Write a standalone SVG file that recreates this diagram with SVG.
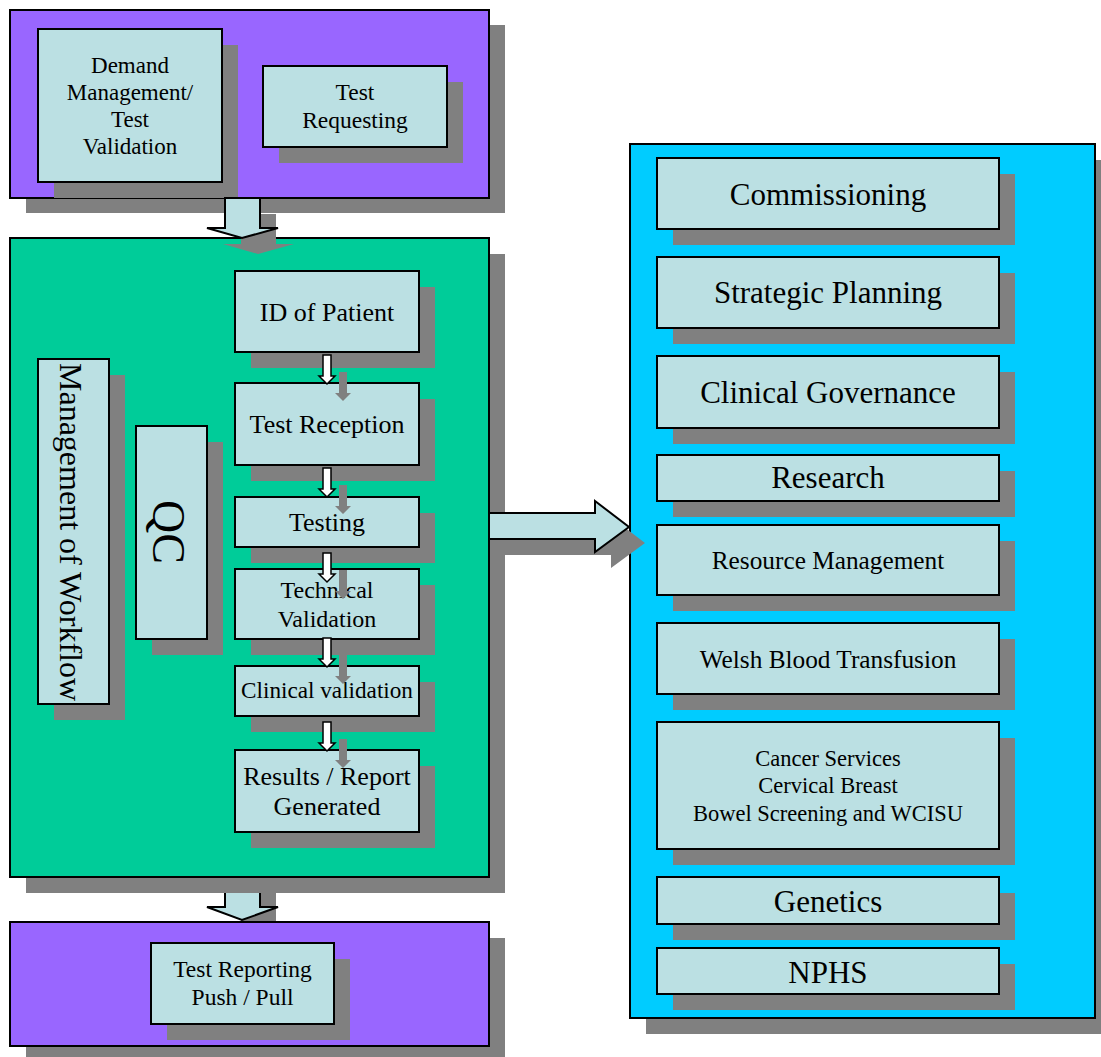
<svg xmlns="http://www.w3.org/2000/svg" width="1101" height="1057" viewBox="0 0 1101 1057">
<style>
.sh{fill:#808080}
.pur{fill:#9966FF;stroke:#000;stroke-width:2}
.grn{fill:#00CC99;stroke:#000;stroke-width:2}
.blu{fill:#00CCFF;stroke:#000;stroke-width:2}
.box{fill:#BBE0E3;stroke:#000;stroke-width:2}
.arw{fill:#BBE0E3;stroke:#000;stroke-width:2;stroke-linejoin:miter}
.sarw{fill:#fff;stroke:#000;stroke-width:1.5}
text{font-family:"Liberation Serif","Times New Roman",serif;fill:#000;text-anchor:middle}
</style>
<defs>
<path id="sa" d="M-4,0 H4 V21 H8 L0,29 L-8,21 H-4 Z"/>
</defs>
<rect width="1101" height="1057" fill="#fff"/>

<!-- top purple -->
<g id="top-panel">
<rect class="sh" x="26" y="25" width="479" height="188"/>
<rect class="pur" x="10" y="10" width="479" height="188"/>
</g>
<g id="demand">
<rect class="sh" x="54" y="45" width="184" height="153"/>
<rect class="box" x="38" y="29" width="184" height="153"/>
<text font-size="23"><tspan x="130" y="73">Demand</tspan><tspan x="130" y="100">Management/</tspan><tspan x="130" y="127">Test</tspan><tspan x="130" y="154">Validation</tspan></text>
</g>
<g id="test-requesting">
<rect class="sh" x="279" y="82" width="184" height="81"/>
<rect class="box" x="263" y="66" width="184" height="81"/>
<text font-size="23.5"><tspan x="355" y="100">Test</tspan><tspan x="355" y="128">Requesting</tspan></text>
</g>

<!-- bottom down arrow (behind green shadow and bottom panel) -->
<g id="conn-bottom">
<path class="sh" d="M241,893 H276 V923 H294 L258,936 L223,923 H241 Z"/>
<path class="arw" d="M225,877 H260 V907 H278 L242,920 L207,907 H225 Z"/>
</g>

<!-- green panel -->
<g id="main-panel">
<rect class="sh" x="26" y="254" width="479" height="639"/>
<rect class="grn" x="10" y="238" width="479" height="639"/>
</g>
<g id="workflow">
<rect class="sh" x="54" y="375" width="71" height="345"/>
<rect class="box" x="38" y="359" width="71" height="345"/>
<text font-size="32" transform="translate(60,532) rotate(90)" x="0" y="0">Management of Workflow</text>
</g>
<g id="qc">
<rect class="sh" x="152" y="442" width="71" height="213"/>
<rect class="box" x="136" y="426" width="71" height="213"/>
<text font-size="46" transform="translate(153,532) rotate(90)" x="0" y="0">QC</text>
</g>
<g id="id-patient">
<rect class="sh" x="251" y="287" width="184" height="81"/>
<rect class="box" x="235" y="271" width="184" height="81"/>
<text font-size="26" x="327" y="321">ID of Patient</text>
</g>
<g id="test-reception">
<rect class="sh" x="251" y="399" width="184" height="82"/>
<rect class="box" x="235" y="383" width="184" height="82"/>
<text font-size="26" x="327" y="433">Test Reception</text>
</g>
<g id="testing">
<rect class="sh" x="251" y="513" width="184" height="50"/>
<rect class="box" x="235" y="497" width="184" height="50"/>
<text font-size="26" x="327" y="531">Testing</text>
</g>
<g id="technical-validation">
<rect class="sh" x="251" y="585" width="184" height="70"/>
<rect class="box" x="235" y="569" width="184" height="70"/>
<text font-size="24"><tspan x="327" y="598">Technical</tspan><tspan x="327" y="627">Validation</tspan></text>
</g>
<g id="clinical-validation">
<rect class="sh" x="251" y="682" width="184" height="50"/>
<rect class="box" x="235" y="666" width="184" height="50"/>
<text font-size="23.2" x="327" y="698">Clinical validation</text>
</g>
<g id="results">
<rect class="sh" x="251" y="766" width="184" height="82"/>
<rect class="box" x="235" y="750" width="184" height="82"/>
<text font-size="26"><tspan x="327" y="785">Results / Report</tspan><tspan x="327" y="815">Generated</tspan></text>
</g>

<!-- bottom purple -->
<g id="bottom-panel">
<rect class="sh" x="26" y="938" width="479" height="124"/>
<rect class="pur" x="10" y="922" width="479" height="124"/>
</g>
<g id="test-reporting">
<rect class="sh" x="167" y="959" width="183" height="81"/>
<rect class="box" x="151" y="943" width="183" height="81"/>
<text font-size="23.5"><tspan x="242.5" y="977">Test Reporting</tspan><tspan x="242.5" y="1005">Push / Pull</tspan></text>
</g>

<!-- blue panel -->
<g id="right-panel">
<rect class="sh" x="646" y="160" width="465" height="874"/>
<rect class="blu" x="630" y="144" width="465" height="874"/>
</g>
<g id="commissioning">
<rect class="sh" x="673" y="174" width="342" height="71"/>
<rect class="box" x="657" y="158" width="342" height="71"/>
<text font-size="31" x="828" y="205">Commissioning</text>
</g>
<g id="strategic-planning">
<rect class="sh" x="673" y="273" width="342" height="71"/>
<rect class="box" x="657" y="257" width="342" height="71"/>
<text font-size="31" x="828" y="303">Strategic Planning</text>
</g>
<g id="clinical-governance">
<rect class="sh" x="673" y="372" width="342" height="72"/>
<rect class="box" x="657" y="356" width="342" height="72"/>
<text font-size="31" x="828" y="403">Clinical Governance</text>
</g>
<g id="research">
<rect class="sh" x="673" y="471" width="342" height="46"/>
<rect class="box" x="657" y="455" width="342" height="46"/>
<text font-size="31" x="828" y="488">Research</text>
</g>
<g id="resource-management">
<rect class="sh" x="673" y="541" width="342" height="70"/>
<rect class="box" x="657" y="525" width="342" height="70"/>
<text font-size="25.3" x="828" y="569">Resource Management</text>
</g>
<g id="welsh-blood">
<rect class="sh" x="673" y="639" width="342" height="71"/>
<rect class="box" x="657" y="623" width="342" height="71"/>
<text font-size="25.3" x="828" y="668">Welsh Blood Transfusion</text>
</g>
<g id="cancer-services">
<rect class="sh" x="673" y="738" width="342" height="127"/>
<rect class="box" x="657" y="722" width="342" height="127"/>
<text font-size="22.5"><tspan x="828" y="766">Cancer Services</tspan><tspan x="828" y="793">Cervical Breast</tspan><tspan x="828" y="821">Bowel Screening and WCISU</tspan></text>
</g>
<g id="genetics">
<rect class="sh" x="673" y="893" width="342" height="47"/>
<rect class="box" x="657" y="877" width="342" height="47"/>
<text font-size="31" x="828" y="912">Genetics</text>
</g>
<g id="nphs">
<rect class="sh" x="673" y="964" width="342" height="46"/>
<rect class="box" x="657" y="948" width="342" height="46"/>
<text font-size="31" x="828" y="983">NPHS</text>
</g>

<!-- connectors -->
<g id="connectors">
<path class="sh" d="M241,214 H276 V244 H294 L258,254 L223,244 H241 Z"/>
<path class="arw" d="M225,198 H260 V228 H278 L242,238 L207,228 H225 Z"/>

<g class="sh">
<use href="#sa" x="343" y="372"/>
<use href="#sa" x="343" y="485"/>
<use href="#sa" x="343" y="570"/>
<use href="#sa" x="343" y="655"/>
<use href="#sa" x="343" y="739"/>
</g>
<g class="sarw">
<use href="#sa" x="327" y="355"/>
<use href="#sa" x="327" y="468"/>
<use href="#sa" x="327" y="553"/>
<use href="#sa" x="327" y="638"/>
<use href="#sa" x="327" y="722"/>
</g>

<path class="sh" d="M505,529 H611 V517 L645,543 L611,568 V555 H505 Z"/>
<path class="arw" d="M489,513 H595 V501 L629,527 L595,552 V539 H489 Z"/>
</g>
</svg>
